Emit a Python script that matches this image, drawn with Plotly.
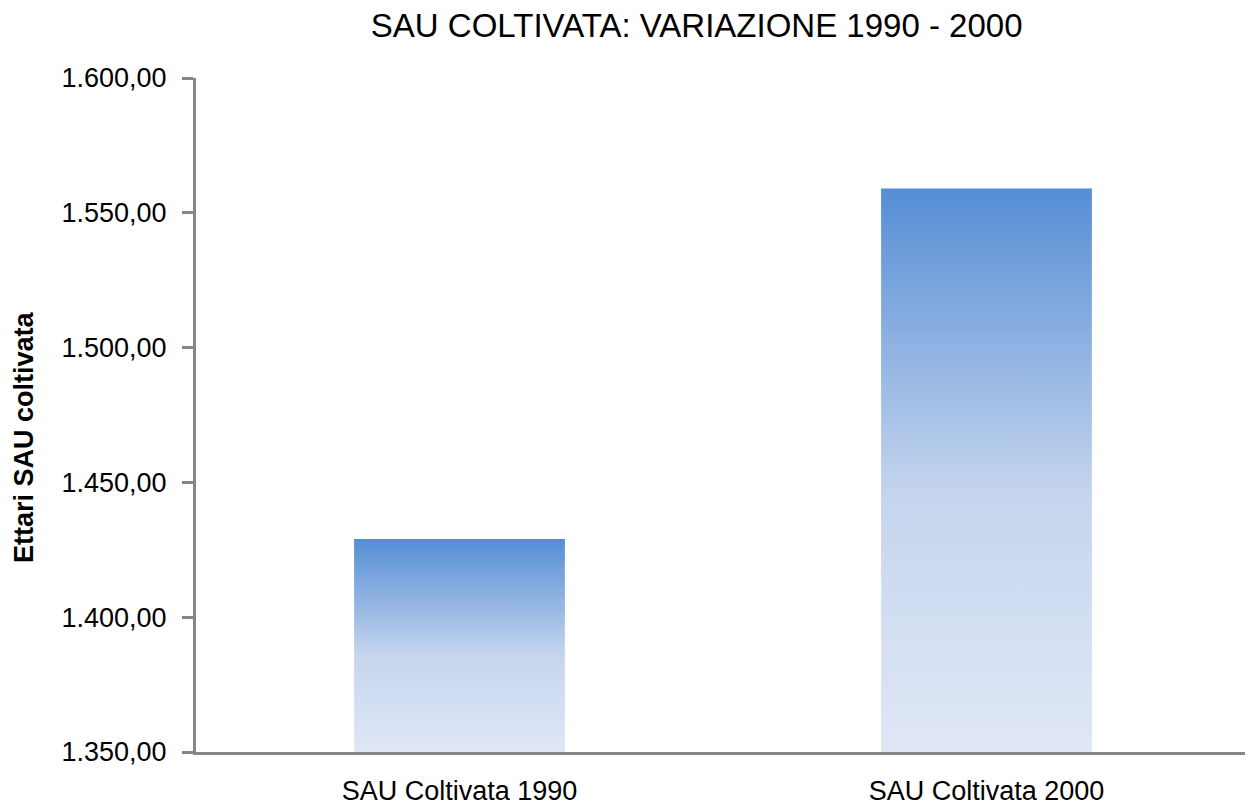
import plotly.graph_objects as go

categories = ["SAU Coltivata 1990", "SAU Coltivata 2000"]
values = [1429.0, 1559.0]
y_min, y_max, y_step = 1350, 1600, 50
title_text = "SAU COLTIVATA: VARIAZIONE 1990 - 2000"
y_title = "Ettari SAU coltivata"

bar_half = 0.2
gradient = [[0.0, "#DFE7F5"], [0.45, "#C6D5EE"], [1.0, "#558ED5"]]
font_fam = "Liberation Sans, Arial, sans-serif"

# the page body has an 8px default margin; size the figure to fit the window
W, H = 1245, 802

fig = go.Figure()
for i, (cat, v) in enumerate(zip(categories, values)):
    xs = [i - bar_half, i + bar_half, i + bar_half, i - bar_half, i - bar_half]
    ys = [y_min, y_min, v, v, y_min]
    fig.add_trace(go.Scatter(
        x=xs, y=ys, mode="lines", fill="toself",
        line=dict(width=0, color="rgba(0,0,0,0)"),
        fillgradient=dict(type="vertical", colorscale=gradient, start=y_min, stop=v),
        name=cat, showlegend=False, hoverinfo="skip",
    ))

fig.update_layout(
    width=W, height=H,
    margin=dict(l=188, r=3, t=70, b=58),
    paper_bgcolor="white", plot_bgcolor="white",
    separators=",.",
    font=dict(family=font_fam, size=27, color="#000000"),
    title=dict(text=title_text, x=0.475, xref="paper", xanchor="center",
               y=1 - 17 / H, yref="container", yanchor="middle",
               font=dict(family=font_fam, size=33, color="#000000")),
    xaxis=dict(range=[-0.5, 1.5], tickvals=list(range(len(categories))), ticktext=categories,
               showline=True, linecolor="#868686", linewidth=3, showgrid=False,
               zeroline=False, ticks="", ticklabelstandoff=13),
    yaxis=dict(range=[y_min, y_max], dtick=y_step, tick0=y_min, tickformat=",.2f",
               showline=True, linecolor="#868686", linewidth=3, showgrid=False,
               zeroline=False, ticks="outside", ticklen=11, tickwidth=3, tickcolor="#868686",
               ticklabelstandoff=10),
    annotations=[dict(text=f"<b>{y_title}</b>", textangle=-90, xref="paper", yref="paper",
                      x=(24 - 196) / 1054, y=(752 - 437) / 674, xanchor="center", yanchor="middle",
                      showarrow=False, font=dict(family=font_fam, size=27, color="#000000"))],
)

fig.write_html("out.html")
